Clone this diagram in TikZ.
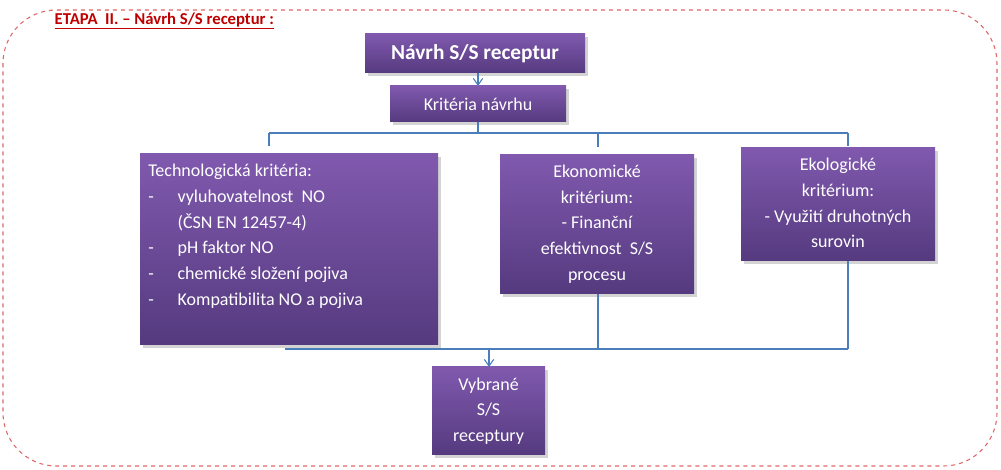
\documentclass[tikz,border=0pt]{standalone}
\usepackage{fontspec}
\setmainfont{Carlito}
\usetikzlibrary{shadows,arrows.meta}
\definecolor{ptop}{HTML}{8059AE}
\definecolor{pbot}{HTML}{553A7F}
\definecolor{lblue}{HTML}{4A7EBB}
\definecolor{dred}{HTML}{C00000}
\definecolor{bord}{HTML}{E06666}
\tikzset{
 pbox/.style={top color=ptop,bottom color=pbot,draw=none,drop shadow={shadow xshift=2pt,shadow yshift=-2pt,opacity=0.35},text=white,font=\fontsize{13.5}{19}\selectfont},
 conn/.style={draw=lblue,line width=0.8pt},
 arr/.style={conn,-{Straight Barb[length=5pt,width=7pt]}}
}
\begin{document}
\begin{tikzpicture}[x=0.75pt,y=-0.75pt]
\useasboundingbox (0,0) rectangle (1001,470);
\draw[bord,dashed,line width=0.8pt,rounded corners=40] (3,10) rectangle (997,466);
\node[anchor=west,text=dred,font=\bfseries\fontsize{12.5}{14}\selectfont] (title) at (50,21) {\underline{ETAPA\ \ II. – Návrh S/S receptur :}};
\path[pbox] (365,34) rectangle (585,73);
\node[text=white,font=\bfseries\fontsize{16}{18}\selectfont] (n1) at (475,53.5) {Návrh S/S receptur};
\path[pbox] (390,86) rectangle (566,122);
\node[text=white,font=\fontsize{13.5}{16}\selectfont] (n2) at (478,104) {Kritéria návrhu};
\path[pbox] (140,154) rectangle (438,345);
\node[anchor=north west,text=white,font=\fontsize{13.5}{19.3}\selectfont,align=left,inner sep=0] (tech) at (148,164) {Technologická kritéria:\\
\makebox[22pt][l]{-}vyluhovatelnost\ \ NO\\
\makebox[22pt][l]{}(ČSN EN 12457-4)\\
\makebox[22pt][l]{-}pH faktor NO\\
\makebox[22pt][l]{-}chemické složení pojiva\\
\makebox[22pt][l]{-}Kompatibilita NO a pojiva};
\path[pbox] (500,155) rectangle (694,294);
\node[text=white,font=\fontsize{13.5}{19.3}\selectfont,align=center] (ekon) at (597,224) {Ekonomické\\kritérium:\\- Finanční\\efektivnost\ \ S/S\\procesu};
\path[pbox] (741,148) rectangle (935,261);
\node[text=white,font=\fontsize{13.5}{19.3}\selectfont,align=center] (ekol) at (838,203) {Ekologické\\kritérium:\\- Využití druhotných\\surovin};
\path[pbox] (432,367) rectangle (545,455);
\node[text=white,font=\fontsize{13.5}{19.3}\selectfont,align=center] (vyb) at (488.5,411) {Vybrané\\S/S\\receptury};
\coordinate (a1) at (478,73); \coordinate (a2) at (478,86);
\draw[arr] (a1) -- (a2);
\coordinate (k) at (478,122); \coordinate (kh) at (478,133);
\coordinate (tl) at (269,133); \coordinate (tr) at (848,133);
\coordinate (tm) at (598,133);
\draw[conn] (k) -- (kh);
\draw[conn] (tl) -- (tr);
\draw[conn] (tl) -- ++(0,13);
\draw[conn] (tm) -- ++(0,14);
\draw[conn] (tr) -- ++(0,13);
\coordinate (bl) at (285,349); \coordinate (br) at (848,349);
\draw[conn] (bl) -- (br);
\draw[conn] (598,294) -- (598,349);
\draw[conn] (848,261) -- (br);
\draw[arr] (489,349) -- (489,367);
\end{tikzpicture}
\end{document}
